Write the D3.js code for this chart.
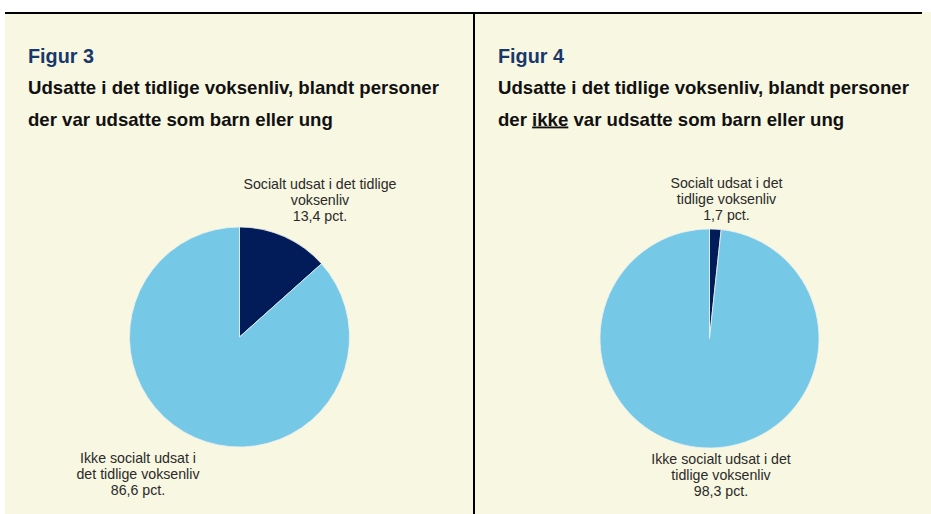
<!DOCTYPE html>
<html>
<head>
<meta charset="utf-8">
<script src="https://cdn.jsdelivr.net/npm/d3@7"></script>
<style>
  html, body { margin: 0; padding: 0; background: #fff; }
  svg { display: block; }
</style>
</head>
<body>
<svg id="chart"></svg>
<script>
// data
const figureTitles = ["Figur 3", "Figur 4"]
const subtitleLine1 = ["Udsatte i det tidlige voksenliv, blandt personer", "Udsatte i det tidlige voksenliv, blandt personer"]
const categories = ["Socialt udsat i det tidlige voksenliv", "Ikke socialt udsat i det tidlige voksenliv"]
const valuesFig3 = [13.4, 86.6]
const valuesFig4 = [1.7, 98.3]
// label line breaks, as in the original
const labelLinesFig3 = [["Socialt udsat i det tidlige", "voksenliv"], ["Ikke socialt udsat i", "det tidlige voksenliv"]]
const labelLinesFig4 = [["Socialt udsat i det", "tidlige voksenliv"], ["Ikke socialt udsat i det", "tidlige voksenliv"]]

const width = 931
const height = 514
const colors = d3.scaleOrdinal().domain(categories).range(["#021c59", "#75c8e6"])
const fmt = v => d3.format(".1f")(v).replace(".", ",") + " pct."

const svg = d3.select("#chart")
  .attr("width", width)
  .attr("height", height)
  .attr("viewBox", `0 0 ${width} ${height}`)
  .style("font-family", "'Liberation Sans', Arial, sans-serif")

// cream panel + frame lines
svg.append("rect")
  .attr("x", 5).attr("y", 12)
  .attr("width", width - 5).attr("height", height - 12)
  .attr("fill", "#f8f7e1")
svg.append("rect")
  .attr("x", 5).attr("y", 12)
  .attr("width", 917).attr("height", 2)
  .attr("fill", "#000")
svg.append("rect")
  .attr("x", 473).attr("y", 12)
  .attr("width", 2).attr("height", height - 12)
  .attr("fill", "#000")

const panels = [
  {title: figureTitles[0], sub1: subtitleLine1[0], values: valuesFig3, lines: labelLinesFig3,
   tx: 28, cx: 239.5, cy: 337, r: 110,
   labelOffsets: [[80.5, -148], [-101.5, 126]]},
  {title: figureTitles[1], sub1: subtitleLine1[1], values: valuesFig4, lines: labelLinesFig4,
   tx: 498, cx: 709.5, cy: 338.5, r: 109.5,
   labelOffsets: [[17, -151], [11.5, 125]]},
]

const pie = d3.pie().sort(null)

panels.forEach((p, idx) => {
  const g = svg.append("g")

  g.append("text")
    .attr("x", p.tx).attr("y", 63)
    .attr("font-size", 19.8).attr("font-weight", "bold")
    .attr("fill", "#18386b")
    .text(p.title)

  g.append("text")
    .attr("x", p.tx).attr("y", 94)
    .attr("font-size", 18.6).attr("font-weight", "bold")
    .attr("fill", "#111")
    .text(p.sub1)

  const sub2 = g.append("text")
    .attr("x", p.tx).attr("y", 125.5)
    .attr("font-size", 18.6).attr("font-weight", "bold")
    .attr("fill", "#111")
  if (idx == 0) {
    sub2.text("der var udsatte som barn eller ung")
  } else {
    sub2.append("tspan").text("der ")
    sub2.append("tspan").attr("text-decoration", "underline").text("ikke")
    sub2.append("tspan").text(" var udsatte som barn eller ung")
  }

  const arc = d3.arc().innerRadius(0).outerRadius(p.r)
  const arcs = pie(p.values)

  g.append("g")
    .attr("transform", `translate(${p.cx},${p.cy})`)
    .selectAll("path")
    .data(arcs)
    .join("path")
      .attr("d", arc)
      .attr("fill", (d, i) => colors(categories[i]))
      .attr("stroke", "#eef0f0")
      .attr("stroke-width", 0.8)

  arcs.forEach((d, i) => {
    const [dx, dy] = p.labelOffsets[i]
    const lines = p.lines[i].concat([fmt(p.values[i])])
    g.append("text")
      .attr("text-anchor", "middle")
      .attr("font-size", 14.2)
      .attr("fill", "#2a2a2a")
      .selectAll("tspan")
      .data(lines)
      .join("tspan")
        .attr("x", p.cx + dx)
        .attr("y", (l, j) => p.cy + dy + j * 16)
        .text(l => l)
  })
})
</script>
</body>
</html>
